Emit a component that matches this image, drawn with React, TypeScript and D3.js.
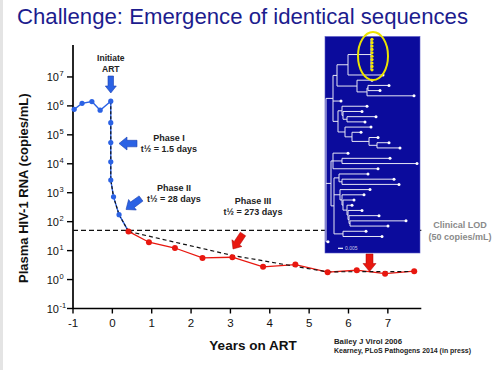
import React from "react";
import * as d3 from "d3";

// plasma viral load (copies/mL) vs years on ART
const preArtYears = [-0.97, -0.77, -0.52, -0.31, -0.04];
const preArtCopies = [760000, 1230000, 1410000, 710000, 1450000];
const phase1Years = [-0.04, -0.04, -0.04, -0.04, 0.03, 0.17];
const phase1Copies = [263000, 54000, 11700, 2750, 720, 175];
const onArtYears = [0.41, 0.93, 1.59, 2.29, 3.05, 3.83, 4.65, 5.47, 6.21, 6.93, 7.67];
const onArtCopies = [46, 19.5, 12.3, 5.6, 5.9, 2.75, 3.3, 1.8, 2.1, 1.6, 1.95];
const phase3FitYears = [0.41, 3.05, 5.45, 7.7];
const phase3FitCopies = [46, 6.8, 1.85, 1.9];
const lodCopies = 50;

const xTicks = [-1, 0, 1, 2, 3, 4, 5, 6, 7];
const yTickExponents = [-1, 0, 1, 2, 3, 4, 5, 6, 7];

// phylogeny inset, branch lengths in 0.001 subs/site, "y" = identical sequences
const treeNewick =
  "(" +
  "((((y:1,y:1,y:1,y:1,y:1,y:1,y:1,y:1,y:1,y:1):23,w:35):11,(w:15,((w:21,w:12):1,w:47):10):20):4," +
  "w:8,((w:25,(w:19,(w:29,w:18):4):1):4,(w:26,(w:9,(w:9,(w:12,w:23):8):17):7):7):5):7," +
  "((w:15,(w:48,w:75):9,w:45):2,((w:29,(w:52,w:57):3):5," +
  "(w:30,(w:22,(w:11,(w:5,(w:14,(w:30,(w:56,w:38):1):1):1):4):1):2):6,(w:23,w:39):9):3):5," +
  "w:2);";
const scaleBarLength = 5;

const FONT = "Liberation Sans, Arial, Helvetica, sans-serif";
const BLUE = "#2b62e4";
const RED = "#e8170f";

function parseNewick(s: string) {
  const tokens = s.split(/\s*(;|\(|\)|,|:)\s*/);
  const ancestors: any[] = [];
  let tree: any = {};
  for (let i = 0; i < tokens.length; i++) {
    const t = tokens[i];
    if (t === "(") {
      const sub = {};
      tree.children = [sub];
      ancestors.push(tree);
      tree = sub;
    } else if (t === ",") {
      const sub = {};
      ancestors[ancestors.length - 1].children.push(sub);
      tree = sub;
    } else if (t === ")") {
      tree = ancestors.pop();
    } else if (t !== ":" && t !== ";" && t !== "") {
      const prev = tokens[i - 1];
      if (prev === ":") tree.length = parseFloat(t);
      else tree.name = t;
    }
  }
  return tree;
}

function blockArrow(x1: number, y1: number, x2: number, y2: number, shaft: number, head: number, headLen: number) {
  const L = Math.hypot(x2 - x1, y2 - y1);
  const ux = (x2 - x1) / L, uy = (y2 - y1) / L;
  const px = -uy, py = ux;
  const bx = x2 - ux * headLen, by = y2 - uy * headLen;
  const pts = [
    [x1 + (px * shaft) / 2, y1 + (py * shaft) / 2],
    [bx + (px * shaft) / 2, by + (py * shaft) / 2],
    [bx + (px * head) / 2, by + (py * head) / 2],
    [x2, y2],
    [bx - (px * head) / 2, by - (py * head) / 2],
    [bx - (px * shaft) / 2, by - (py * shaft) / 2],
    [x1 - (px * shaft) / 2, y1 - (py * shaft) / 2],
  ];
  return "M" + pts.map((p) => p[0].toFixed(1) + "," + p[1].toFixed(1)).join("L") + "Z";
}

// tree layout
const treeRoot: any = d3.hierarchy(parseNewick(treeNewick));
treeRoot.eachBefore((n: any) => {
  n.dist = (n.parent ? n.parent.dist : 0) + (n.data.length || 0);
});
let slot = 0;
let prevLeaf: any = null;
treeRoot.leaves().forEach((l: any) => {
  if (prevLeaf) slot += prevLeaf.data.name === "y" && l.data.name === "y" ? 0.65 : 1;
  l.slot = slot;
  prevLeaf = l;
});
treeRoot.eachAfter((n: any) => {
  if (n.children) n.slot = (n.children[0].slot + n.children[n.children.length - 1].slot) / 2;
});

export default function App() {
  const x = d3.scaleLinear().domain([-1, 7.85]).range([73, 421.3]);
  const y = d3.scaleLog().domain([0.1, 1e8]).range([308.5, 48]);

  const line = d3
    .line<[number, number]>()
    .x((d) => x(d[0]))
    .y((d) => y(d[1]));

  const pre = preArtYears.map((v, i) => [v, preArtCopies[i]] as [number, number]);
  const ph1 = phase1Years.map((v, i) => [v, phase1Copies[i]] as [number, number]);
  const onArt = onArtYears.map((v, i) => [v, onArtCopies[i]] as [number, number]);
  const fit3 = phase3FitYears.map((v, i) => [v, phase3FitCopies[i]] as [number, number]);
  const blueLine = [...pre, ...ph1, onArt[0]];
  const fit12 = [pre[pre.length - 1], ...ph1, onArt[0]];

  const tx = d3.scaleLinear().domain([0, 90]).range([326, 416]);
  const ty = d3.scaleLinear().domain([0, slot]).range([39.3, 241.7]);
  const nodes = treeRoot.descendants();
  const leaves = treeRoot.leaves();

  const x0 = x(-1);
  const yBase = y(0.1);
  const artX = x(-0.04);

  return (
    <svg width={500} height={370} style={{ position: "absolute", left: 0, top: 0, background: "#fff" }} fontFamily={FONT}>
      <rect x={0} y={0} width={3} height={370} fill="#e4e4e4" />
      <text x={17} y={24} fontSize={22} fill="#1c1c8e" textLength={451} lengthAdjust="spacingAndGlyphs">
        Challenge: Emergence of identical sequences
      </text>

      {/* axes */}
      <line x1={x0} x2={x0} y1={45} y2={yBase} stroke="#000" strokeWidth={1.7} />
      <line x1={x0} x2={x(7.85)} y1={yBase} y2={yBase} stroke="#000" strokeWidth={1.7} />
      {yTickExponents.map((e) => (
        <g key={"y" + e}>
          <line x1={x0 - 6} x2={x0} y1={y(Math.pow(10, e))} y2={y(Math.pow(10, e))} stroke="#000" strokeWidth={1.4} />
          <text x={59} y={y(Math.pow(10, e)) + 4} fontSize={11} textAnchor="end" fill="#111">
            10
          </text>
          <text x={59.5} y={y(Math.pow(10, e)) - 0.5} fontSize={7.5} fill="#111">
            {e < 0 ? "-" + Math.abs(e) : e}
          </text>
        </g>
      ))}
      {xTicks.map((t) => (
        <g key={"x" + t}>
          <line x1={x(t)} x2={x(t)} y1={yBase} y2={yBase + 5} stroke="#000" strokeWidth={1.4} />
          <text x={x(t)} y={327} fontSize={11.5} textAnchor="middle" fill="#111">
            {t}
          </text>
        </g>
      ))}
      <text
        transform={`translate(28,${(y(0.1) + 68) / 2}) rotate(-90)`}
        fontSize={13}
        fontWeight="bold"
        textAnchor="middle"
        fill="#111"
      >
        Plasma HIV-1 RNA (copies/mL)
      </text>
      <text x={253} y={350} fontSize={13.5} fontWeight="bold" textAnchor="middle" fill="#111">
        Years on ART
      </text>

      {/* limit of detection */}
      <line x1={x0} x2={x(7.85)} y1={y(lodCopies)} y2={y(lodCopies)} stroke="#111" strokeWidth={1.3} strokeDasharray="5,3" />

      {/* series */}
      <path d={line(blueLine) || ""} fill="none" stroke={BLUE} strokeWidth={1.4} />
      <path d={line(onArt) || ""} fill="none" stroke={RED} strokeWidth={1.3} />
      <path d={line(fit12) || ""} fill="none" stroke="#111" strokeWidth={1.2} strokeDasharray="3,2" />
      <path d={line(fit3) || ""} fill="none" stroke="#111" strokeWidth={1.2} strokeDasharray="4,3" />
      {[...pre, ...ph1].map((d, i) => (
        <circle key={"b" + i} cx={x(d[0])} cy={y(d[1])} r={2.6} fill={BLUE} />
      ))}
      {onArt.map((d, i) => (
        <circle key={"r" + i} cx={x(d[0])} cy={y(d[1])} r={3} fill={RED} />
      ))}

      {/* annotations */}
      <text x={artX} y={61} fontSize={8.5} fontWeight="bold" textAnchor="middle" fill="#222">
        Initiate
      </text>
      <text x={artX} y={72} fontSize={8.5} fontWeight="bold" textAnchor="middle" fill="#222">
        ART
      </text>
      <path d={blockArrow(artX, 76, artX, 93, 5.5, 11, 7)} fill={BLUE} stroke="#1b3fae" strokeWidth={0.6} />
      <path d={blockArrow(137, 143.5, 119, 143.5, 6.5, 13, 8)} fill={BLUE} stroke="#1b3fae" strokeWidth={0.6} />
      <path d={blockArrow(141, 198.5, 126, 209.5, 6.5, 13, 8)} fill={BLUE} stroke="#1b3fae" strokeWidth={0.6} />
      <path d={blockArrow(243, 234, 233, 249, 6.5, 12, 7)} fill={RED} stroke="#a00" strokeWidth={0.5} />

      <text x={169} y={141} fontSize={9} fontWeight="bold" textAnchor="middle" fill="#222">
        Phase I
      </text>
      <text x={169} y={152} fontSize={9} fontWeight="bold" textAnchor="middle" fill="#222">
        t½ = 1.5 days
      </text>
      <text x={174} y={190.5} fontSize={9} fontWeight="bold" textAnchor="middle" fill="#222">
        Phase II
      </text>
      <text x={174} y={202} fontSize={9} fontWeight="bold" textAnchor="middle" fill="#222">
        t½ = 28 days
      </text>
      <text x={253} y={204} fontSize={9} fontWeight="bold" textAnchor="middle" fill="#222">
        Phase III
      </text>
      <text x={253} y={214.5} fontSize={9} fontWeight="bold" textAnchor="middle" fill="#222">
        t½ = 273 days
      </text>
      <text x={460} y={228} fontSize={9} fontWeight="bold" textAnchor="middle" fill="#8a8a8a">
        Clinical LOD
      </text>
      <text x={460} y={239.5} fontSize={9} fontWeight="bold" textAnchor="middle" fill="#8a8a8a">
        (50 copies/mL)
      </text>
      <text x={334} y={344} fontSize={7.5} fontWeight="bold" fill="#222" textLength={68} lengthAdjust="spacingAndGlyphs">
        Bailey J  Virol 2006
      </text>
      <text x={334} y={352.5} fontSize={7.5} fontWeight="bold" fill="#222" textLength={137} lengthAdjust="spacingAndGlyphs">
        Kearney, PLoS Pathogens 2014 (in press)
      </text>

      {/* phylogeny inset */}
      <rect x={325} y={36.5} width={95} height={216.5} fill="#0b0b9c" stroke="#5a5ac8" strokeWidth={0.6} />
      <path
        d={nodes
          .map((n: any) => {
            let s = "";
            if (n.parent) s += `M${tx(n.parent.dist)},${ty(n.slot)}H${tx(n.dist)}`;
            if (n.children)
              s += `M${tx(n.dist)},${ty(n.children[0].slot)}V${ty(n.children[n.children.length - 1].slot)}`;
            return s;
          })
          .join("")}
        fill="none"
        stroke="#e6e6f4"
        strokeWidth={1}
      />
      {leaves.map((l: any, i: number) => (
        <circle
          key={"t" + i}
          cx={tx(l.dist)}
          cy={ty(l.slot)}
          r={l.data.name === "y" ? 1.6 : 1.5}
          fill={l.data.name === "y" ? "#f4e800" : "#fff"}
        />
      ))}
      <ellipse cx={373} cy={56} rx={15} ry={24} fill="none" stroke="#ece400" strokeWidth={2} />
      <line x1={338} x2={338 + (tx(scaleBarLength) - tx(0))} y1={248.3} y2={248.3} stroke="#fff" strokeWidth={1.2} />
      <text x={345} y={250} fontSize={5} fill="#c8c8e8">
        0.005
      </text>
      <path d={blockArrow(369.5, 254, 369.5, 271.5, 7, 13, 8)} fill={RED} stroke="#a00" strokeWidth={0.5} />
    </svg>
  );
}
